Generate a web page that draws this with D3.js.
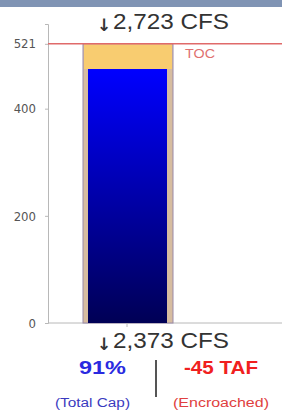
<!DOCTYPE html>
<html>
<head>
<meta charset="utf-8">
<script src="https://cdn.jsdelivr.net/npm/d3@7"></script>
<style>
  body { margin: 0; background: #fff; }
  svg { display: block; font-family: "Liberation Sans", Arial, sans-serif; }
</style>
</head>
<body>
<div id="chart"></div>
<script>
// reservoir values (TAF)
const yDomain = [0, 558];
const tickValues = [0, 200, 400, 521];
const capacity = [521];
const storage = [474];
const tocLevel = [521];
const flowLabels = ["2,723 CFS", "2,373 CFS"];
const pctLabel = ["91%"];
const tafLabel = ["-45 TAF"];
const subLabels = ["(Total Cap)", "(Encroached)"];

const width = 282, height = 410;
const margin = { top: 24, left: 48, bottom: 87, right: 0 };

const svg = d3.select("#chart").append("svg")
    .attr("width", width)
    .attr("height", height);

// header band
svg.append("rect")
    .attr("x", 0).attr("y", 0)
    .attr("width", width).attr("height", 7)
    .attr("fill", "#8094b4");

const y = d3.scaleLinear()
    .domain(yDomain)
    .range([height - margin.bottom, margin.top]);

const barX0 = 83, barW = 90;

// grey axes
const yAxis = d3.axisLeft(y).tickValues(tickValues).tickSize(3).tickPadding(9);
const ax = svg.append("g")
    .attr("transform", "translate(" + margin.left + ",0)")
    .call(yAxis);
ax.select(".domain").attr("stroke", "#b8b8b8");
ax.selectAll(".tick line").attr("stroke", "#b8b8b8");
ax.selectAll(".tick text")
    .attr("fill", "#555")
    .attr("font-size", 13)
    .attr("font-family", "'DejaVu Sans Condensed', 'DejaVu Sans', sans-serif");

svg.append("line")
    .attr("x1", margin.left).attr("x2", width)
    .attr("y1", y(0)).attr("y2", y(0))
    .attr("stroke", "#b8b8b8");

// gradient for storage
const defs = svg.append("defs");
const grad = defs.append("linearGradient")
    .attr("id", "storeGrad")
    .attr("x1", 0).attr("x2", 0).attr("y1", 0).attr("y2", 1);
grad.append("stop").attr("offset", "0%").attr("stop-color", "#0000ff");
grad.append("stop").attr("offset", "100%").attr("stop-color", "#000055");

const g = svg.append("g");

// capacity outline
g.selectAll(".cap").data(capacity).enter().append("rect")
    .attr("class", "cap")
    .attr("x", barX0)
    .attr("y", d => y(d))
    .attr("width", barW)
    .attr("height", d => y(0) - y(d))
    .attr("fill", "#d6bca0")
    .attr("stroke", "#9a8aa8")
    .attr("stroke-width", 1);

// empty space above storage
g.selectAll(".empty").data(storage).enter().append("rect")
    .attr("class", "empty")
    .attr("x", barX0 + 1)
    .attr("y", y(capacity[0]) + 0.5)
    .attr("width", barW - 2)
    .attr("height", d => y(d) - y(capacity[0]) - 0.5)
    .attr("fill", "#f8cc70");

// storage
g.selectAll(".store").data(storage).enter().append("rect")
    .attr("class", "store")
    .attr("x", barX0 + 5)
    .attr("y", d => y(d))
    .attr("width", barW - 11)
    .attr("height", d => y(0) - y(d))
    .attr("fill", "url(#storeGrad)");

// TOC line
svg.selectAll(".toc").data(tocLevel).enter().append("line")
    .attr("class", "toc")
    .attr("x1", margin.left).attr("x2", width)
    .attr("y1", d => y(d)).attr("y2", d => y(d))
    .attr("stroke", "#e06a6a")
    .attr("stroke-width", 1.5);

svg.append("text")
    .attr("x", 185).attr("y", y(tocLevel[0]) + 14)
    .attr("fill", "#e07070")
    .attr("font-size", 13)
    .attr("textLength", 30)
    .attr("lengthAdjust", "spacingAndGlyphs")
    .text("TOC");

// small tick under bar
svg.append("line")
    .attr("x1", barX0 + barW / 2 - 1).attr("x2", barX0 + barW / 2 - 1)
    .attr("y1", y(0)).attr("y2", y(0) + 4)
    .attr("stroke", "#b8b8b8");

// flows
function flowText(yPos, label) {
    svg.append("text")
        .attr("x", 104).attr("y", yPos + 2)
        .attr("text-anchor", "middle")
        .attr("fill", "#333")
        .attr("font-size", 17)
        .attr("font-weight", "bold")
        .attr("font-family", "'DejaVu Sans', sans-serif")
        .text("\u2193");
    svg.append("text")
        .attr("x", 113).attr("y", yPos)
        .attr("fill", "#333")
        .attr("font-size", 22)
        .attr("textLength", 116)
        .attr("lengthAdjust", "spacingAndGlyphs")
        .text(label);
}
flowText(29, flowLabels[0]);
flowText(348, flowLabels[1]);

svg.append("text")
    .attr("x", 79).attr("y", 374)
    .attr("fill", "#2a2ae0")
    .attr("font-size", 19).attr("font-weight", "bold")
    .attr("textLength", 47)
    .attr("lengthAdjust", "spacingAndGlyphs")
    .text(pctLabel[0]);

svg.append("text")
    .attr("x", 184).attr("y", 374)
    .attr("fill", "#f02020")
    .attr("font-size", 19).attr("font-weight", "bold")
    .attr("textLength", 74)
    .attr("lengthAdjust", "spacingAndGlyphs")
    .text(tafLabel[0]);

svg.append("line")
    .attr("x1", 156).attr("x2", 156)
    .attr("y1", 360).attr("y2", 397)
    .attr("stroke", "#555").attr("stroke-width", 2);

svg.append("text")
    .attr("x", 55).attr("y", 407)
    .attr("fill", "#3a3ac0")
    .attr("font-size", 12)
    .attr("textLength", 75)
    .attr("lengthAdjust", "spacingAndGlyphs")
    .text(subLabels[0]);

svg.append("text")
    .attr("x", 173).attr("y", 407)
    .attr("fill", "#e04040")
    .attr("font-size", 12)
    .attr("textLength", 96)
    .attr("lengthAdjust", "spacingAndGlyphs")
    .text(subLabels[1]);
</script>
</body>
</html>
